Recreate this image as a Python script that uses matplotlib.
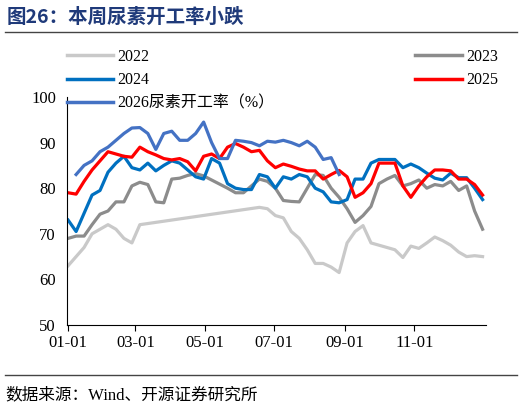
import numpy as np
import matplotlib.pyplot as plt
from matplotlib.lines import Line2D

plt.rcParams['font.family'] = ['Liberation Serif', 'Noto Sans CJK SC']

nan = np.nan
# weekly readings, week k -> day 7k from 01-01
v2022 = [63, 65, 67, 70, 71, 72, 71, 69, 68, 72] + [nan] * 14 + \
        [75.8, 75.5, 74, 73.5, 70.5, 69, 66.5, 63.5, 63.5, 62.7, 61.5, 68, 70.5, 71.8,
         68, 67.5, 67, 66.5, 64.8, 67.3, 66.8, 68, 69.3, 68.5, 67.5, 66, 65, 65.2, 65]
v2023 = [69, 69.5, 69.5, 72, 74.3, 75, 77, 77, 80.5, 81.3, 80.8, 77, 76.8, 82, 82.2, 82.8,
         83.2, 82.7, 81.8, 80.9, 80, 79, 79, 80.5, 82, 81.5, 80, 77.3, 77.1, 77, 80, 83,
         82.8, 80, 78, 75.5, 72.5, 74, 76, 81, 82, 82.8, 80.5, 81, 81.8, 80, 80.8, 80.5,
         81.5, 79.5, 80.5, 75, 71]
v2024 = [73, 70.5, 74.5, 78.5, 79.5, 83.5, 85.5, 87, 84.5, 84, 85.5, 83.8, 85, 86, 85.5, 84,
         82.5, 82, 86.5, 85.5, 81, 80, 79.7, 79.7, 83, 82.5, 80, 82.5, 82, 83, 82.5, 80,
         79.2, 77, 76.8, 77.5, 82, 82, 85.5, 86.3, 86.3, 86.3, 84.5, 85.3, 84.5, 83.3, 82.2,
         81.8, 83.3, 82.3, 82.3, 80, 77.5]
v2025 = [79, 78.7, 81.5, 84, 86, 88, 87.5, 87, 86.8, 89, 88, 87.3, 86.5, 86.2, 86.5, 85.8,
         83.8, 87, 87.5, 86.5, 89, 89.8, 89, 88, 88.3, 86, 84.5, 85.3, 84.8, 84.2, 83.8, 83.8,
         82, 83, 83.9, 82.5, 78, 79, 81, 85.5, 85.5, 85.5, 80.5, 78, 80.5, 82.5, 84, 84, 83.8,
         82, 82, 80.8, 78.5]
v2026 = [nan, 83, 85, 86, 88, 89, 90.5, 92, 93.2, 93.3, 92, 88.5, 92, 92.5, 90.5, 90.5, 92,
         94.5, 90, 86.5, 86.5, 90.5, 90.3, 90, 89.3, 90.3, 90.1, 90.5, 90, 89.3, 90.3, 89,
         86.3, 86.7, 83]

series = [('2022', v2022, '#c9c9c9'), ('2023', v2023, '#8c8c8c'),
          ('2024', v2024, '#0070c0'), ('2025', v2025, '#ff0000'),
          ('2026尿素开工率（%）', v2026, '#4472c4')]

tick_days = [0, 59, 120, 181, 243, 304]
tick_labels = ['01-01', '03-01', '05-01', '07-01', '09-01', '11-01']

fig = plt.figure(figsize=(5.22, 4.07), dpi=100)
ax = fig.add_axes([67 / 522, 1 - 325 / 407, (486 - 67) / 522, (325 - 97) / 407])

handles = []
for name, vals, col in series:
    y = np.array(vals, dtype=float)
    x = np.arange(len(y)) * 7
    ok = ~np.isnan(y)
    ax.plot(x[ok], y[ok], color=col, lw=2.3)
    handles.append(Line2D([], [], color=col, lw=2.5, label=name))

ax.set_xlim(-1, 367)
ax.set_ylim(50, 100)
ax.set_yticks([50, 60, 70, 80, 90, 100])
ax.set_xticks(tick_days, tick_labels)
ax.tick_params(axis='both', labelsize=12, length=4)
ax.tick_params(axis='y', length=0, pad=8)
for s in ['top', 'right']:
    ax.spines[s].set_visible(False)

# column-major fill: left column 2022/2024/2026, right column 2023/2025
fig.legend(handles=[handles[0], handles[2], handles[4], handles[1], handles[3]],
           ncol=2, loc='upper left', bbox_to_anchor=(0.1, 0.915), frameon=False,
           fontsize=11.5, handlelength=2.9, columnspacing=8.8, labelspacing=0.45,
           handletextpad=0.3)

fig.text(0.012, 0.945, '图26：本周尿素开工率小跌', fontsize=14, fontweight='bold',
         color='#1f3a7a', family=['Noto Sans CJK SC'])
fig.add_artist(Line2D([0.01, 0.99], [0.922, 0.922], color='#444444', lw=1))
fig.add_artist(Line2D([0.01, 0.99], [0.078, 0.078], color='#444444', lw=1))
fig.text(0.01, 0.02, '数据来源：Wind、开源证券研究所', fontsize=12,
         family=['Liberation Serif', 'Noto Sans CJK SC'])

fig.savefig('out.png')
